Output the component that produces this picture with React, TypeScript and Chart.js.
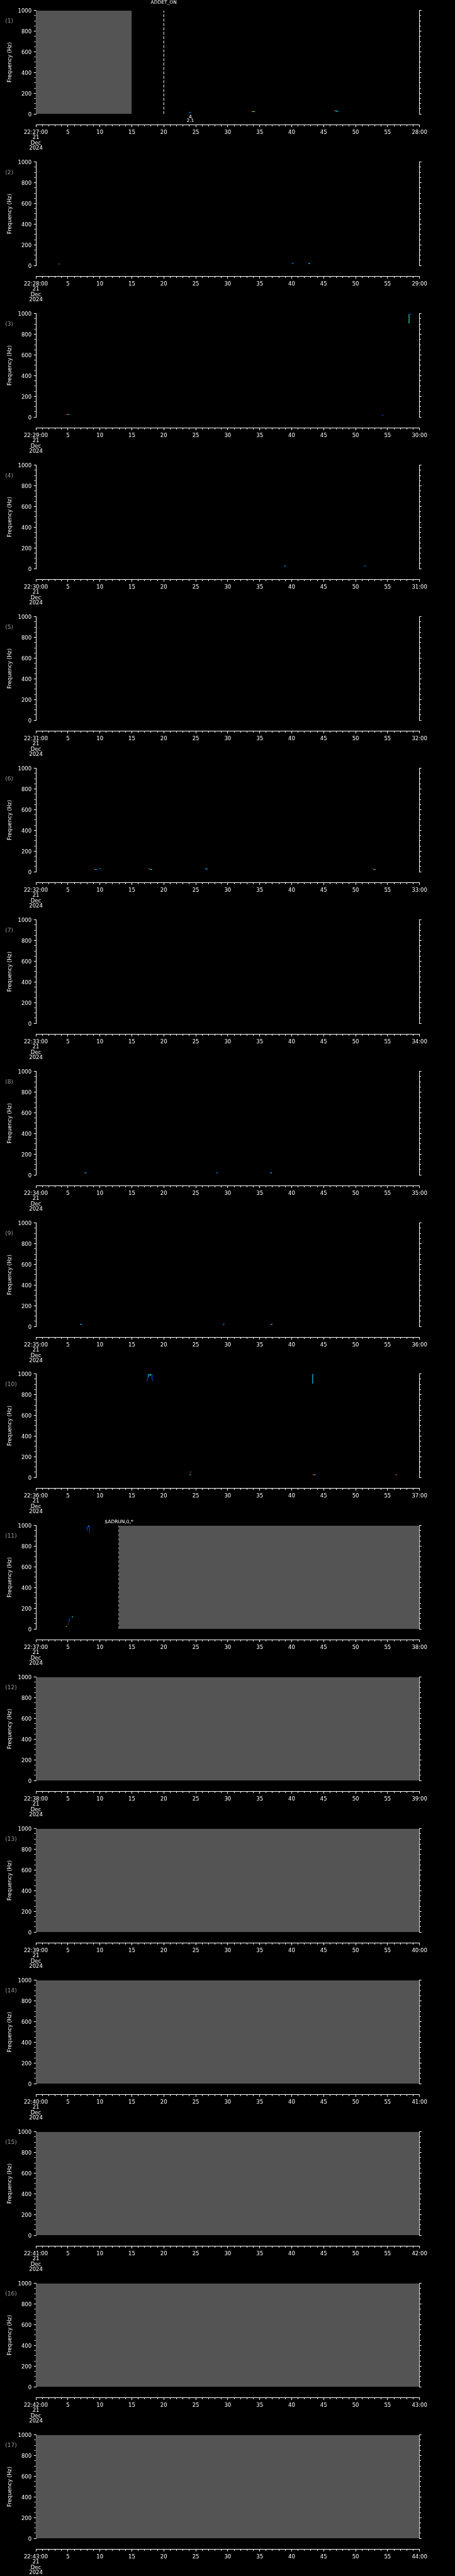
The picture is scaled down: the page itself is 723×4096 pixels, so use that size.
import React, { useEffect, useRef } from 'react';
import { Chart, registerables } from 'chart.js';

Chart.register(...registerables);

// ---------------- data ----------------
const PANEL_NUMBERS = [1, 2, 3, 4, 5, 6, 7, 8, 9, 10, 11, 12, 13, 14, 15, 16, 17];
const START_LABELS = [
  '22:27:00', '22:28:00', '22:29:00', '22:30:00', '22:31:00', '22:32:00', '22:33:00', '22:34:00', '22:35:00',
  '22:36:00', '22:37:00', '22:38:00', '22:39:00', '22:40:00', '22:41:00', '22:42:00', '22:43:00',
];
const END_LABELS = [
  '28:00', '29:00', '30:00', '31:00', '32:00', '33:00', '34:00', '35:00', '36:00',
  '37:00', '38:00', '39:00', '40:00', '41:00', '42:00', '43:00', '44:00',
];
const DATE_LINES = ['21', 'Dec', '2024'];
const FREQ_MIN = 0;
const FREQ_MAX = 1000;
const FREQ_LABEL_STEP = 200;
const FREQ_MINOR_STEP = 50;
const SEC_MIN = 0;
const SEC_MAX = 60;
const SEC_LABEL_STEP = 5;
const SEC_MINOR_STEP = 1;
const Y_TITLE = 'Frequency (Hz)';

// [panel, startSec, endSec] : no-data (grey) blocks
const NO_DATA_BLOCKS: [number, number, number][] = [
  [1, 0, 15],
  [11, 13, 60],
  [12, 0, 60],
  [13, 0, 60],
  [14, 0, 60],
  [15, 0, 60],
  [16, 0, 60],
  [17, 0, 60],
];

// [panel, sec, label] : event markers (dashed lines)
const EVENT_MARKERS: [number, number, string][] = [
  [1, 20, 'ADDET_ON'],
  [11, 13, '$ADRUN,0,*'],
];

// [panel, sec, text lines] : notes under a trace
const TRACE_NOTES: [number, number, string[]][] = [[1, 24.15, ['4', '2.1']]];

// [panel, intensity level 0..1, [sec, Hz] points]
const TRACES: [number, number, [number, number][]][] = [
  [1, 0.35, [[23.9, 15], [24.1, 15]]],
  [1, 0.1, [[24.1, 15], [24.35, 15]]],
  [1, 1.0, [[33.67, 23], [33.85, 23]]],
  [1, 0.75, [[33.85, 23], [34.0, 23]]],
  [1, 0.4, [[34.0, 23], [34.27, 23]]],
  [1, 1.0, [[46.65, 29], [46.85, 29]]],
  [1, 0.55, [[46.85, 29], [47.05, 29]]],
  [1, 0.4, [[47.05, 23], [47.2, 23]]],
  [1, 0.1, [[47.2, 23], [47.4, 23]]],

  [2, 0.35, [[3.57, 15], [3.7, 15]]],
  [2, 0.1, [[3.7, 15], [3.8, 15]]],
  [2, 0.2, [[40.0, 20], [40.3, 20]]],
  [2, 0.3, [[42.6, 20], [42.9, 20]]],

  [3, 1.0, [[4.68, 25], [4.85, 25]]],
  [3, 0.75, [[4.85, 25], [5.0, 25]]],
  [3, 0.35, [[5.0, 25], [5.26, 25]]],
  [3, 0.1, [[54.1, 17], [54.35, 17]]],
  [3, 0.5, [[58.27, 910], [58.36, 910], [58.36, 996]]],
  [3, 0.1, [[58.36, 996], [58.75, 996]]],

  [4, 0.3, [[38.8, 25], [39.1, 25]]],
  [4, 0.2, [[51.3, 25], [51.6, 25]]],

  [6, 1.0, [[9.0, 30], [9.2, 30]]],
  [6, 0.35, [[9.2, 22], [9.5, 22]]],
  [6, 0.1, [[9.5, 22], [9.7, 22]]],
  [6, 0.4, [[9.9, 30], [10.1, 30]]],
  [6, 0.8, [[17.6, 30], [17.8, 30]]],
  [6, 0.35, [[17.8, 22], [18.2, 22]]],
  [6, 0.4, [[26.5, 28], [26.8, 28]]],
  [6, 0.1, [[26.7, 22], [26.9, 22]]],
  [6, 1.0, [[52.6, 30], [52.8, 30]]],
  [6, 0.5, [[52.8, 22], [53.1, 22]]],

  [8, 0.3, [[7.6, 20], [7.9, 20]]],
  [8, 0.2, [[28.2, 20], [28.5, 20]]],
  [8, 0.3, [[36.6, 20], [36.9, 20]]],

  [9, 0.3, [[6.9, 20], [7.2, 20]]],
  [9, 0.2, [[29.2, 20], [29.5, 20]]],
  [9, 0.3, [[36.7, 20], [37.0, 20]]],

  [10, 0.1, [[17.36, 930], [17.54, 970]]],
  [10, 0.35, [[17.54, 970], [17.59, 1000], [17.82, 1000]]],
  [10, 0.45, [[17.82, 1000], [17.87, 980], [17.91, 1000]]],
  [10, 0.35, [[17.91, 1000], [18.12, 1000]]],
  [10, 0.1, [[18.12, 1000], [18.17, 945], [18.36, 935]]],
  [10, 0.9, [[24.05, 51], [24.3, 51]]],
  [10, 0.55, [[24.05, 26], [24.2, 26]]],
  [10, 0.1, [[24.2, 26], [24.3, 26]]],
  [10, 0.35, [[43.28, 907], [43.28, 998]]],
  [10, 0.1, [[43.28, 998], [43.66, 998]]],
  [10, 1.0, [[43.2, 26], [43.45, 26]]],
  [10, 0.6, [[43.45, 26], [43.65, 26]]],
  [10, 0.1, [[43.65, 26], [43.85, 26]]],
  [10, 0.85, [[56.27, 26], [56.5, 26]]],

  [11, 0.1, [[7.97, 952], [8.01, 978], [8.19, 990]]],
  [11, 0.4, [[8.19, 990], [8.28, 1000]]],
  [11, 0.1, [[8.28, 1000], [8.36, 995], [8.4, 931]]],
  [11, 0.65, [[4.7, 23], [4.85, 23]]],
  [11, 0.85, [[5.0, 48], [5.15, 48]]],
  [11, 0.35, [[5.15, 70], [5.22, 70]]],
  [11, 0.1, [[5.22, 74], [5.22, 98], [5.45, 98]]],
  [11, 0.4, [[5.6, 117], [5.8, 117]]],
];

// ---------------- layout / style ----------------
const W = 723;
const REF_H = 5802;
const S = 4096 / REF_H;
const PANEL_H = (REF_H / PANEL_NUMBERS.length) * S;
const PLOT_TOP = 23.7 * S;
const PLOT_BOTTOM = 256.6 * S;
const PLOT_LEFT = 80.8 * S;
const PLOT_RIGHT = 944.3 * S;
const AXIS_LINE_Y = 281 * S;
const AXIS_VALUE_BELOW =
  -((AXIS_LINE_Y - PLOT_BOTTOM) / (PLOT_BOTTOM - PLOT_TOP)) * (FREQ_MAX - FREQ_MIN);
const FONT = 'DejaVu Sans';
const TICK_FONT = 8.5;
const GREY = '#545454';
const LABEL_GREY = '#9a9a9a';
const EVENT_LABEL_Y: Record<number, number> = { 1: 6 * S, 11: 15.1 * S };

const COLOR_STOPS: [number, [number, number, number]][] = [
  [0, [0, 0, 200]],
  [0.1, [0, 64, 255]],
  [0.35, [0, 220, 255]],
  [0.55, [64, 255, 128]],
  [0.72, [255, 220, 0]],
  [0.85, [255, 100, 0]],
  [1, [210, 0, 0]],
];

function levelColor(v: number): string {
  for (let i = 1; i < COLOR_STOPS.length; i++) {
    const [p1, c1] = COLOR_STOPS[i];
    const [p0, c0] = COLOR_STOPS[i - 1];
    if (v <= p1) {
      const f = (v - p0) / (p1 - p0 || 1);
      const c = c0.map((a, k) => Math.round(a + (c1[k] - a) * f));
      return `rgb(${c[0]},${c[1]},${c[2]})`;
    }
  }
  const c = COLOR_STOPS[COLOR_STOPS.length - 1][1];
  return `rgb(${c[0]},${c[1]},${c[2]})`;
}

Chart.defaults.font.family = FONT;

function Panel({ index }: { index: number }) {
  const ref = useRef<HTMLCanvasElement | null>(null);
  const top = Math.round(index * PANEL_H);
  const h = Math.round((index + 1) * PANEL_H) - top;
  const panel = PANEL_NUMBERS[index];

  useEffect(() => {
    if (!ref.current) return;
    const datasets: any[] = [];
    NO_DATA_BLOCKS.filter((b) => b[0] === panel).forEach(([, t0, t1]) => {
      datasets.push({
        type: 'line',
        data: [
          { x: t0, y: FREQ_MAX },
          { x: t1, y: FREQ_MAX },
        ],
        borderWidth: 0,
        borderColor: GREY,
        backgroundColor: GREY,
        fill: 'origin',
        pointRadius: 0,
      });
    });
    TRACES.filter((t) => t[0] === panel).forEach(([, lvl, pts]) => {
      datasets.push({
        type: 'line',
        data: pts.map(([x, y]) => ({ x, y })),
        borderColor: levelColor(lvl),
        borderWidth: 1.1,
        pointRadius: 0,
        fill: false,
        tension: 0,
      });
    });
    EVENT_MARKERS.filter((e) => e[0] === panel).forEach(([, t]) => {
      datasets.push({
        type: 'line',
        data: [
          { x: t, y: FREQ_MIN },
          { x: t, y: FREQ_MAX },
        ],
        borderColor: '#ffffff',
        borderWidth: 1,
        borderDash: [4.5, 2.5],
        pointRadius: 0,
        fill: false,
      });
    });

    const textPlugin = {
      id: 'panelText',
      afterDraw(chart: any) {
        const ctx = chart.ctx;
        const xs = chart.scales.x;
        const ys = chart.scales.y;
        ctx.save();
        ctx.textBaseline = 'middle';
        ctx.fillStyle = LABEL_GREY;
        ctx.font = `9px "${FONT}"`;
        ctx.textAlign = 'left';
        ctx.fillText(`(${panel})`, 11.7 * S, 47.5 * S);
        ctx.fillStyle = '#ffffff';
        ctx.textAlign = 'center';
        ctx.font = `7.5px "${FONT}"`;
        EVENT_MARKERS.filter((e) => e[0] === panel).forEach(([, t, label]) => {
          ctx.fillText(label, xs.getPixelForValue(t), EVENT_LABEL_Y[panel] ?? 6 * S);
        });
        TRACE_NOTES.filter((n) => n[0] === panel).forEach(([, t, lines]) => {
          const x = xs.getPixelForValue(t);
          const y0 = ys.getPixelForValue(FREQ_MIN);
          lines.forEach((ln, i) => ctx.fillText(ln, x, y0 + 6.7 * S + i * 9 * S));
        });
        ctx.restore();
      },
    };

    const chart = new Chart(ref.current, {
      type: 'line',
      data: { datasets },
      options: {
        responsive: false,
        animation: false,
        devicePixelRatio: 1,
        events: [],
        layout: { padding: { top: PLOT_TOP, bottom: h - PLOT_BOTTOM, left: 0, right: 0 } },
        plugins: { legend: { display: false }, tooltip: { enabled: false } },
        scales: {
          x: {
            type: 'linear',
            min: SEC_MIN,
            max: SEC_MAX,
            position: { y: AXIS_VALUE_BELOW } as any,
            grid: {
              drawOnChartArea: false,
              color: '#ffffff',
              tickColor: '#ffffff',
              tickLength: 3.1,
              tickWidth: 1,
              tickBorderDash: (c: any) =>
                c.tick && c.tick.value % SEC_LABEL_STEP === 0 ? [] : [1.9, 100],
            } as any,
            border: { display: true, color: '#ffffff', width: 1 },
            ticks: {
              stepSize: SEC_MINOR_STEP,
              autoSkip: false,
              maxRotation: 0,
              minRotation: 0,
              color: '#ffffff',
              padding: 4.6,
              font: { size: TICK_FONT, lineHeight: 1 },
              callback: (v: any) => {
                const n = Number(v);
                if (n % SEC_LABEL_STEP !== 0) return '';
                if (n === SEC_MIN) return [START_LABELS[index], ...DATE_LINES];
                if (n === SEC_MAX) return END_LABELS[index];
                return String(n);
              },
            },
          },
          y: {
            type: 'linear',
            position: 'left',
            min: FREQ_MIN,
            max: FREQ_MAX,
            afterFit: (s: any) => {
              s.width = PLOT_LEFT;
            },
            grid: {
              drawOnChartArea: false,
              color: '#ffffff',
              tickColor: '#ffffff',
              tickLength: 3.3,
              tickWidth: 1,
              tickBorderDash: (c: any) =>
                c.tick && c.tick.value % FREQ_LABEL_STEP === 0 ? [] : [2.1, 100],
              tickBorderDashOffset: (c: any) =>
                c.tick && c.tick.value % FREQ_LABEL_STEP === 0 ? 0 : 101.4,
            } as any,
            border: { display: true, color: '#ffffff', width: 1 },
            ticks: {
              stepSize: FREQ_MINOR_STEP,
              maxTicksLimit: 1000,
              autoSkip: false,
              color: '#ffffff',
              padding: 3.6,
              labelOffset: 1.5,
              font: { size: TICK_FONT, lineHeight: 1 },
              callback: (v: any) => (Number(v) % FREQ_LABEL_STEP === 0 ? String(v) : ''),
            },
            title: {
              display: true,
              text: Y_TITLE,
              color: '#ffffff',
              font: { size: TICK_FONT, lineHeight: 1.2 },
              padding: { top: 10.9, bottom: 0 },
            },
          },
          y2: {
            type: 'linear',
            position: 'right',
            min: FREQ_MIN,
            max: FREQ_MAX,
            afterFit: (s: any) => {
              s.width = W - PLOT_RIGHT;
            },
            grid: {
              drawOnChartArea: false,
              color: '#ffffff',
              tickColor: '#ffffff',
              tickLength: 3.1,
              tickWidth: 1,
              tickBorderDash: (c: any) =>
                c.tick && c.tick.value % FREQ_LABEL_STEP === 0 ? [] : [1.9, 100],
            } as any,
            border: { display: true, color: '#ffffff', width: 1 },
            ticks: {
              stepSize: FREQ_MINOR_STEP,
              maxTicksLimit: 1000,
              autoSkip: false,
              font: { size: TICK_FONT, lineHeight: 1 },
              callback: () => '',
            },
          },
        },
      } as any,
      plugins: [textPlugin],
    });
    return () => chart.destroy();
  }, []);

  return (
    <canvas
      ref={ref}
      width={W}
      height={h}
      style={{ display: 'block', width: W, height: h, background: '#000' }}
    />
  );
}

export default function App() {
  useEffect(() => {
    document.body.style.margin = '0';
    document.body.style.background = '#000';
  }, []);
  return (
    <div style={{ width: W, background: '#000' }}>
      {PANEL_NUMBERS.map((p, i) => (
        <Panel key={p} index={i} />
      ))}
    </div>
  );
}
